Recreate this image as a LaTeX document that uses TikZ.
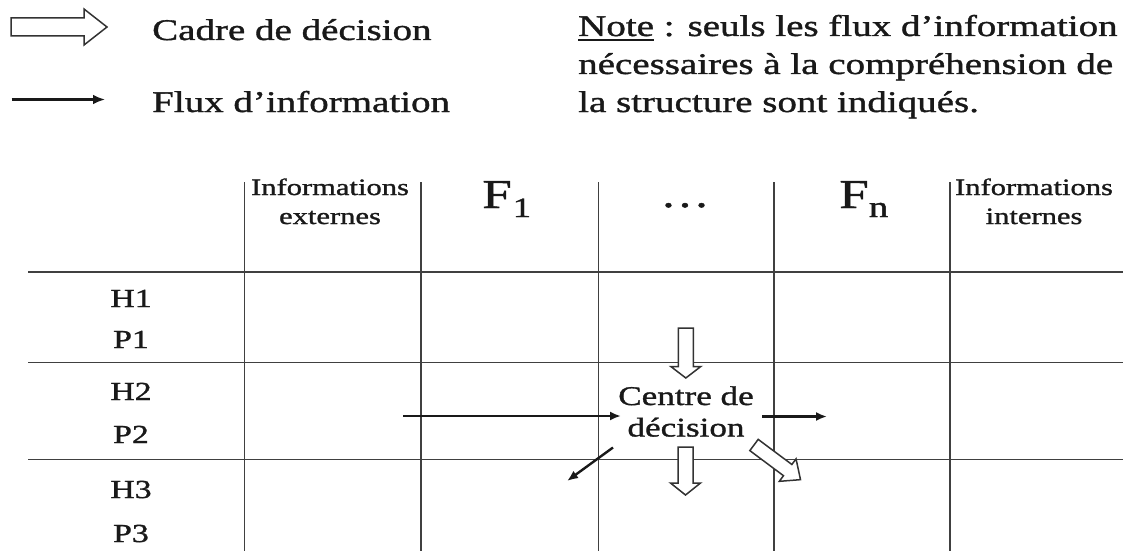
\documentclass[tikz,border=0pt]{standalone}
\usepackage{fontspec}
\setmainfont{Liberation Serif}[FakeStretch=1.3,FakeBold=1.2]
\usetikzlibrary{arrows.meta}
\newcommand\fsz[1]{\fontsize{#1}{#1}\selectfont}
\newcommand\ulnote[1]{\setbox0\hbox{#1}\rlap{\rule[-5pt]{\wd0}{1.5pt}}\copy0\relax}
\newcommand\hollowarrow[7]{% name, start, angle, length, shaft half width, head half width, head length
  \begin{scope}[shift={#2},rotate=#3]
    \draw[hollow] (0,-#5) -- ({#4-#7},-#5) -- ({#4-#7},-#6) -- (#4,0) coordinate (#1) -- ({#4-#7},#6) -- ({#4-#7},#5) -- (0,#5) -- cycle;
  \end{scope}}
\tikzset{
  txt/.style={inner sep=0pt, text=black!90},
  legend/.style={txt, anchor=base west, font=\fsz{30}},
  rowlab/.style={txt, anchor=base, font=\fsz{26}},
  headsmall/.style={txt, anchor=base, font=\fsz{23.5}},
  headbig/.style={txt, anchor=base west, font=\fsz{41}},
  centre/.style={txt, anchor=base, font=\fsz{27}},
  grid/.style={line width=1.4pt, draw=black!75},
  hollow/.style={line width=1.5pt, draw=black!80, fill=white, line join=miter},
  flux/.style={line width=2.4pt, draw=black!90, -{Latex[length=11pt,width=9pt]}},
}
\begin{document}
\begin{tikzpicture}[x=1pt,y=-1pt]
\useasboundingbox (0,0) rectangle (1123,551);
\fill[white] (0,0) rectangle (1123,551);

% legend
\hollowarrow{lgtip}{(11,27)}{0}{96}{9}{18}{23}
\node[legend] (cadre) at (152,40) {Cadre de décision};
\coordinate (lfa) at (11.7,99.5);
\coordinate (lfb) at (105,99.5);
\draw[flux, line width=2.6pt, -{Latex[length=12pt,width=10pt]}] (lfa) -- (lfb);
\node[legend] (flux) at (152,112) {Flux d’information};

% note
\node[legend] (note1) at (578,36) {\ulnote{Note} : seuls les flux d’information};
\node[legend] (note2) at (578,74) {nécessaires à la compréhension de};
\node[legend] (note3) at (578,112) {la structure sont indiqués.};

% grid
\draw[grid] (28,272) -- (1123,272);
\draw[grid] (28,362.5) -- (1123,362.5);
\draw[grid] (28,459.5) -- (1123,459.5);
\foreach \xx in {244.5,421,598.5,774,950}
  \draw[grid] (\xx,182) -- (\xx,551);

% header
\node[headsmall] (ext1) at (330,195) {Informations};
\node[headsmall] (ext2) at (330,224) {externes};
\node[headbig] (f1) at (482,208) {F{\fsz{28}\raisebox{-9pt}{\hspace{1pt}1}}};
\node[txt, anchor=base, font=\fsz{38}] (dots) at (685,207) {…};
\node[headbig] (fn) at (839,208) {F{\fsz{30}\raisebox{-9pt}{n}}};
\node[headsmall] (int1) at (1034,195) {Informations};
\node[headsmall] (int2) at (1034,224) {internes};

% row labels
\node[rowlab] (h1) at (131,307) {H1};
\node[rowlab] (p1) at (131,348) {P1};
\node[rowlab] (h2) at (131,400) {H2};
\node[rowlab] (p2) at (131,443) {P2};
\node[rowlab] (h3) at (131,498) {H3};
\node[rowlab] (p3) at (131,542) {P3};

% centre de decision
\node[centre] (c1) at (686,405) {Centre de};
\node[centre] (c2) at (686,436.5) {décision};

% decision frames (hollow arrows)
\hollowarrow{topt}{(685.8,328)}{-90}{50}{7.5}{15}{11.5}
\hollowarrow{bott}{(685.5,447)}{-90}{48}{7.5}{15}{12}
\hollowarrow{diagt}{(754,445)}{-36.7}{58}{7}{14}{16}

% information flows
\coordinate (inA) at (403,416);
\coordinate (inB) at (621,416);
\coordinate (outA) at (762,416.5);
\coordinate (outB) at (827,416.5);
\coordinate (dgA) at (613,447.5);
\coordinate (dgB) at (567,481);
\draw[flux] (inA) -- (inB);
\draw[flux] (outA) -- (outB);
\draw[flux] (dgA) -- (dgB);
\end{tikzpicture}
\end{document}
